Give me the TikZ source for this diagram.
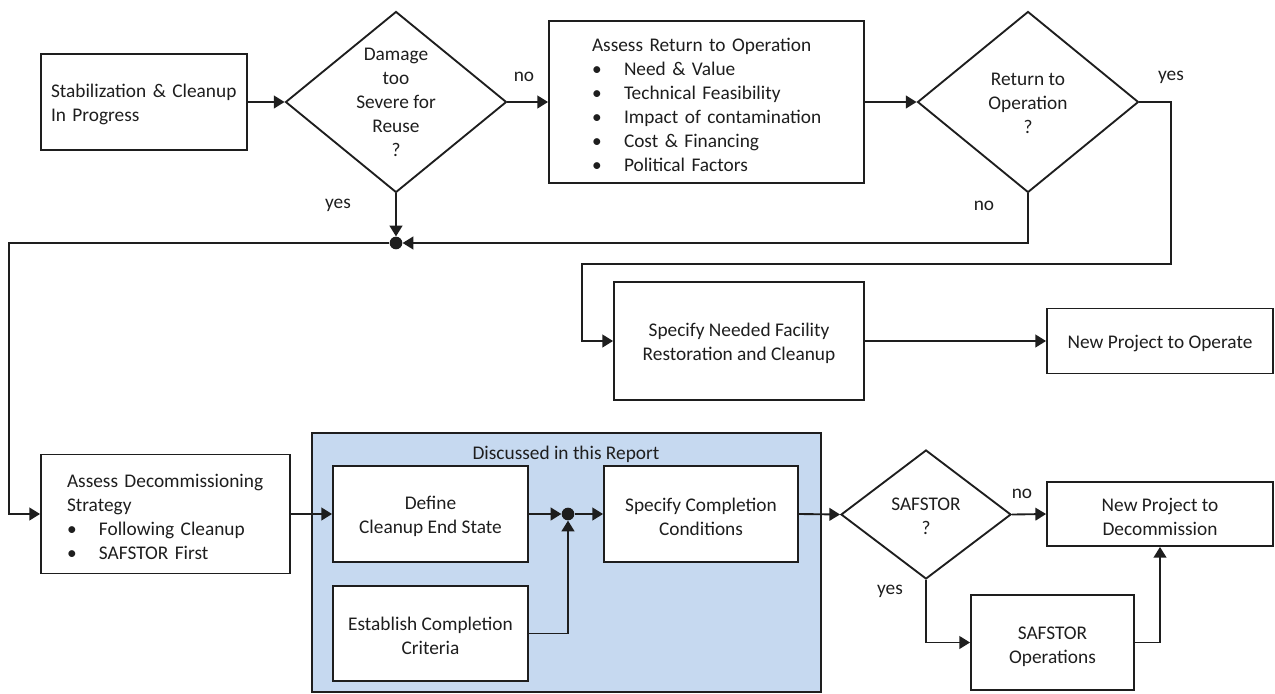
\documentclass[tikz,border=0pt]{standalone}
\usepackage{fontspec}
\setmainfont{Carlito}
\usetikzlibrary{arrows.meta,shapes.geometric}
\newcommand\pxu{0.75pt}
\newcommand\bul{\makebox[24pt][l]{\textbullet}}
\definecolor{repblue}{RGB}{198,217,240}
\definecolor{ink}{RGB}{30,30,30}
\begin{document}
\begin{tikzpicture}[x=0.75pt,y=-0.75pt,
  every node/.style={font=\fontsize{14.5pt}{18pt}\selectfont, text=ink},
  ln/.style={line width=1.4pt, draw=ink},
  arr/.style={ln, -{Triangle[length=8pt,width=9.5pt]}},
  box/.style={draw=ink, line width=1.4pt, fill=white, inner sep=0pt},
  txt/.style={inner sep=0pt, align=center, yshift=-2.5*\pxu},
  ltxt/.style={inner sep=0pt, align=left, yshift=-2.5*\pxu},
  dia/.style={diamond, draw=ink, line width=1.4pt, fill=white, inner sep=0pt},
  dot/.style={circle, fill=ink, inner sep=0pt, minimum size=9.5pt},
  lbl/.style={inner sep=0pt}
]
\useasboundingbox (0,0) rectangle (1275,693);

% report region
\node[draw=ink, line width=1.4pt, fill=repblue, minimum width=509*\pxu, minimum height=259*\pxu, inner sep=0pt] (rep) at (566.5,562.5) {};
\node[lbl] (reptitle) at (566,454) {Discussed in this Report};

% top row
\node[box, minimum width=206*\pxu, minimum height=96*\pxu,
  label={[ltxt, text width=186*\pxu]center:{\mbox{Stabilization \& Cleanup}\\In Progress}}] (stab) at (144,102) {};
\node[dia, minimum width=221*\pxu, minimum height=181*\pxu] (d1) at (396,102) {};
\node[lbl, align=center] (d1t) at (396,102) {Damage\\too\\Severe for\\Reuse\\?};
\node[box, minimum width=315*\pxu, minimum height=162*\pxu,
  label={[ltxt, text width=229*\pxu]center:{\mbox{Assess Return to Operation}\\\bul Need \& Value\\\bul Technical Feasibility\\\mbox{\bul Impact of contamination}\\\bul Cost \& Financing\\\bul Political Factors}}] (ar) at (706.5,102) {};
\node[dia, minimum width=221*\pxu, minimum height=181*\pxu] (d2) at (1028,102) {};
\node[lbl, align=center] (d2t) at (1028,103) {Return to\\Operation\\?};

\node[dot] (j1) at (396,243) {};

% middle row
\node[box, minimum width=250*\pxu, minimum height=118*\pxu,
  label={[txt]center:{Specify Needed Facility\\Restoration and Cleanup}}] (sn) at (739,341) {};
\node[box, minimum width=226*\pxu, minimum height=65*\pxu,
  label={[txt]center:{New Project to Operate}}] (npo) at (1160,341) {};

% bottom row
\node[box, minimum width=249*\pxu, minimum height=119*\pxu,
  label={[ltxt, text width=197*\pxu]center:{\mbox{Assess Decommissioning}\\Strategy\\\bul Following Cleanup\\\bul SAFSTOR First}}] (ads) at (165.5,514) {};
\node[box, minimum width=195*\pxu, minimum height=96*\pxu,
  label={[txt]center:{Define\\Cleanup End State}}] (def) at (430.5,514) {};
\node[box, minimum width=195*\pxu, minimum height=95*\pxu,
  label={[txt]center:{Establish Completion\\Criteria}}] (est) at (430.5,633.5) {};
\node[dot] (j2) at (568,514) {};
\node[box, minimum width=194*\pxu, minimum height=96*\pxu,
  label={[txt]center:{Specify Completion\\Conditions}}] (scc) at (701,514) {};
\node[dia, minimum width=170*\pxu, minimum height=129*\pxu] (saf) at (926,514.5) {};
\node[lbl, align=center] (saft) at (926,516) {SAFSTOR\\?};
\node[box, minimum width=226*\pxu, minimum height=64*\pxu,
  label={[txt]center:{New Project to\\Decommission}}] (npd) at (1160,514) {};
\node[box, minimum width=163*\pxu, minimum height=95*\pxu,
  label={[txt, yshift=-1.5*\pxu]center:{SAFSTOR\\Operations}}] (so) at (1052.5,642.5) {};

% labels
\node[lbl] (l1) at (524,76.5) {no};
\node[lbl] (l2) at (338,205.5) {yes};
\node[lbl] (l3) at (1171,77.5) {yes};
\node[lbl] (l4) at (984,205.5) {no};
\node[lbl] (l5) at (1022,493.5) {no};
\node[lbl] (l6) at (890,591.5) {yes};

% helper coordinates
\coordinate (cl) at (9,243);
\coordinate (y1) at (1171,264);
\coordinate (y2) at (582,264);

% connectors
\draw[arr] (stab.east) -- (d1.west);
\draw[arr] (d1.east) -- (ar.west);
\draw[arr] (ar.east) -- (d2.west);
\draw[arr] (d1.south) -- (j1);
\draw[arr] (d2.south) |- (j1);
\draw[arr] (j1.west) -- (cl) |- (ads.west);
\draw[arr] (d2.east) -| (y1) -- (y2) |- (sn.west);
\draw[arr] (sn.east) -- (npo.west);
\draw[arr] (ads.east) -- (def.west);
\draw[arr] (def.east) -- (j2);
\draw[arr] (j2) -- (scc.west);
\draw[arr] (est.east) -| (j2);
\draw[arr] (scc.east) -- (saf.west);
\draw[arr] (saf.east) -- (npd.west);
\draw[arr] (saf.south) |- (so.west);
\draw[arr] (so.east) -| (npd.south);
\end{tikzpicture}
\end{document}
